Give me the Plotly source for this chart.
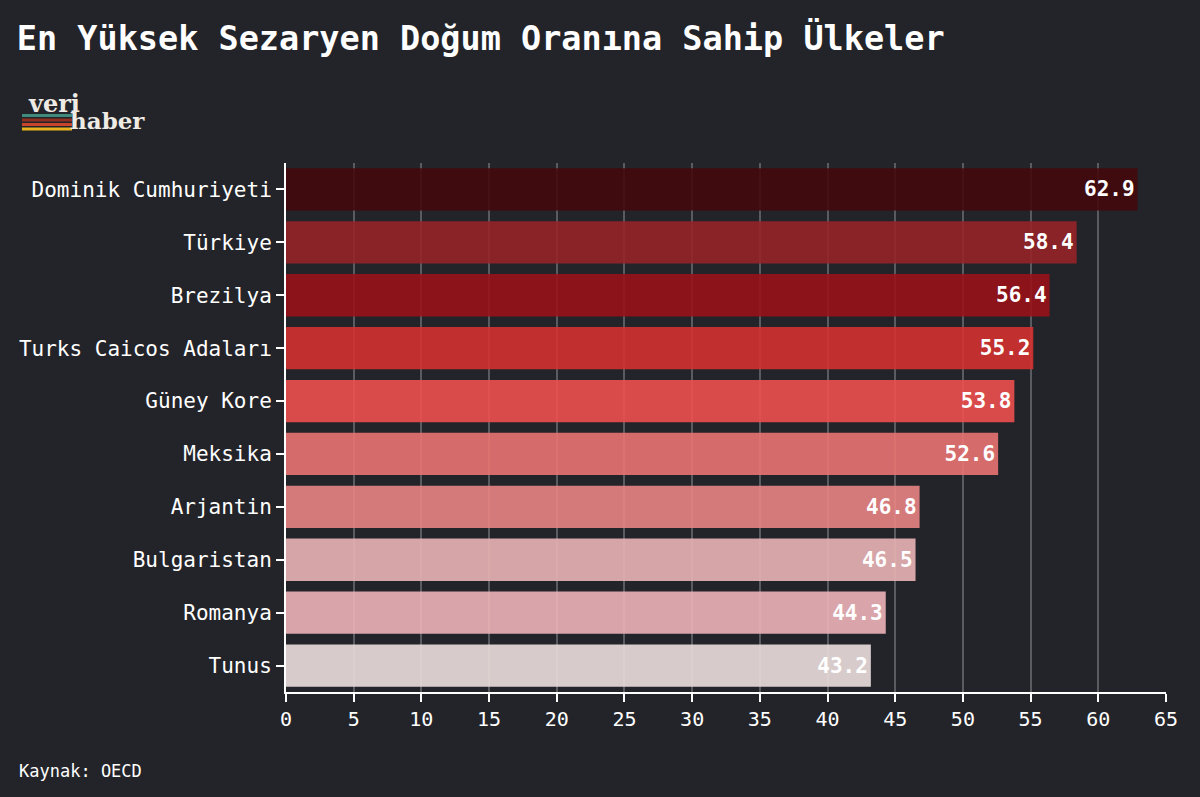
import plotly.graph_objects as go

countries = ["Dominik Cumhuriyeti", "Türkiye", "Brezilya", "Turks Caicos Adaları",
             "Güney Kore", "Meksika", "Arjantin", "Bulgaristan", "Romanya", "Tunus"]
values = [62.9, 58.4, 56.4, 55.2, 53.8, 52.6, 46.8, 46.5, 44.3, 43.2]
colors = ["#3f0c0f", "#8a2428", "#8c141a", "#c1302f", "#d94b4b",
          "#d56c6b", "#d57a7a", "#d5a6a7", "#d9a6aa", "#d7cbcb"]
x_ticks = list(range(0, 70, 5))

BG = "#232429"
MONO = "DejaVu Sans Mono"
ALPHA = 0.9


def hex2rgb(h):
    h = h.lstrip("#")
    return [int(h[i:i + 2], 16) for i in (0, 2, 4)]


def translucent(target):
    t, b = hex2rgb(target), hex2rgb(BG)
    base = [max(0, min(255, round((tc - (1 - ALPHA) * bc) / ALPHA))) for tc, bc in zip(t, b)]
    return f"rgba({base[0]},{base[1]},{base[2]},{ALPHA})"


fig = go.Figure(go.Bar(
    x=values, y=countries, orientation="h",
    marker=dict(color=[translucent(c) for c in colors], line=dict(width=0)),
    width=0.8,
    text=[f"{v:.1f}" for v in values],
    textposition="inside", insidetextanchor="end",
    textfont=dict(family=MONO, size=21, color="white", weight="bold"),
    cliponaxis=False,
))

fig.update_layout(
    width=1200, height=797,
    paper_bgcolor=BG, plot_bgcolor=BG,
    margin=dict(l=286, r=34, t=163, b=105),
    showlegend=False,
    title=dict(text="<b>En Yüksek Sezaryen Doğum Oranına Sahip Ülkeler</b>",
               x=0.014, xanchor="left", y=0.952, yanchor="middle",
               font=dict(family=MONO, size=33.5, color="white")),
    font=dict(family=MONO, color="white"),
)

fig.update_xaxes(
    range=[0, 65], tickvals=x_ticks, ticktext=[str(t) for t in x_ticks],
    showgrid=True, gridcolor="#5a5b60", gridwidth=1.5,
    showline=True, linecolor="white", linewidth=2,
    ticks="outside", ticklen=8, tickwidth=2, tickcolor="white",
    tickfont=dict(family=MONO, size=20, color="white"),
    zeroline=False, fixedrange=True,
)
fig.update_yaxes(
    autorange=False, range=[9.5, -0.5],
    categoryorder="array", categoryarray=countries,
    showgrid=False,
    showline=True, linecolor="white", linewidth=2,
    ticks="outside", ticklen=8, tickwidth=2, tickcolor="white",
    tickfont=dict(family=MONO, size=21, color="white"),
    zeroline=False,
)


def px_x(p):
    return (p - 286) / 880


def px_y(p):
    return (692 - p) / 529


# source
fig.add_annotation(text="Kaynak: OECD", xref="paper", yref="paper",
                   x=px_x(17), y=px_y(771), xanchor="left", yanchor="middle",
                   showarrow=False, font=dict(family=MONO, size=17, color="white"))

# logo: stripes + text
stripes = ["#3f8a7a", "#8e2f22", "#c8452b", "#e8b21e"]
for i, c in enumerate(stripes):
    y0 = 114 + i * 4.5
    fig.add_shape(type="rect", xref="paper", yref="paper",
                  x0=px_x(22), x1=px_x(72),
                  y0=px_y(y0 + 3), y1=px_y(y0),
                  line=dict(width=0), fillcolor=c, layer="above")
fig.add_annotation(text="<b>veri</b>", xref="paper", yref="paper",
                   x=px_x(26), y=px_y(103), xanchor="left", yanchor="middle",
                   showarrow=False, font=dict(family="DejaVu Serif", size=24, color="#eeeae4"))
fig.add_annotation(text="<b>haber</b>", xref="paper", yref="paper",
                   x=px_x(68), y=px_y(121), xanchor="left", yanchor="middle",
                   showarrow=False, font=dict(family="DejaVu Serif", size=23, color="#eeeae4"))

fig.write_html("out.html")
